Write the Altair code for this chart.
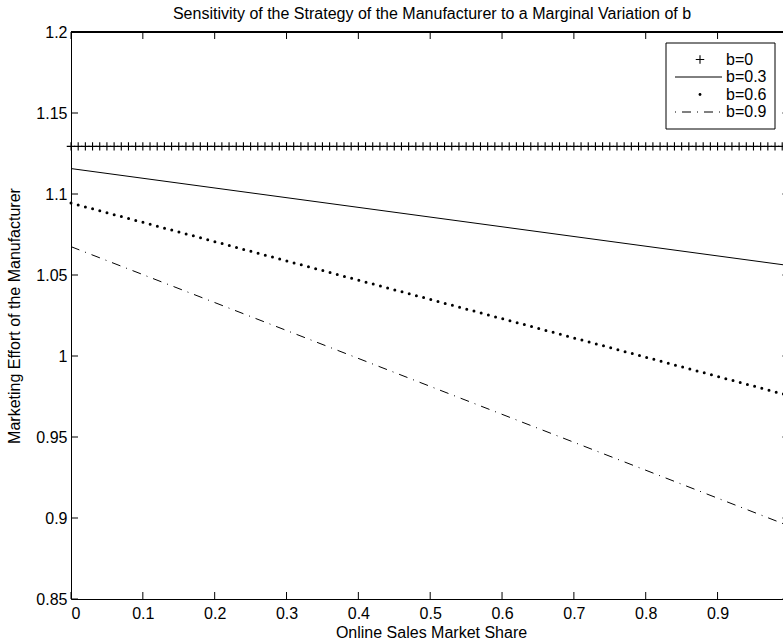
import altair as alt
import pandas as pd

# ---------------- data ----------------
x_share = [round(i * 0.01, 2) for i in range(101)]
b0_effort = [1.1294] * 101                     # b = 0 (constant, '+' markers)
line_x = [0.0, 1.0]
b03_effort = [1.1157, 1.0558]                  # b = 0.3 (solid)
b06_effort = [1.0944, 0.9755]                  # b = 0.6 (dotted)
b09_effort = [1.0675, 0.8950]                  # b = 0.9 (dash-dot)
series_labels = ["b=0", "b=0.3", "b=0.6", "b=0.9"]
x_ticks = [0, 0.1, 0.2, 0.3, 0.4, 0.5, 0.6, 0.7, 0.8, 0.9]
y_ticks = [0.85, 0.9, 0.95, 1.0, 1.05, 1.1, 1.15, 1.2]

title_text = "Sensitivity of the Strategy of the Manufacturer to a Marginal Variation of b"
x_title = "Online Sales Market Share"
y_title = "Marketing Effort of the Manufacturer"

FONT = "Liberation Sans"
FS = 16
W, H = 712, 567

df_b0 = pd.DataFrame({"x": x_share, "y": b0_effort})
df_b03 = pd.DataFrame({"x": line_x, "y": b03_effort})
df_b06 = pd.DataFrame({"x": line_x, "y": b06_effort})
df_b09 = pd.DataFrame({"x": line_x, "y": b09_effort})
df_xt = pd.DataFrame({"t": x_ticks})
df_yt = pd.DataFrame({"t": y_ticks})

xscale = alt.Scale(domain=[0, 0.9911], nice=False, zero=False)
yscale = alt.Scale(domain=[0.85, 1.2], nice=False, zero=False)

PLUS = "M-1,0H1M0,-1V1"

x_axis = alt.Axis(values=x_ticks, format="~g", ticks=False, grid=False,
                  domain=True, domainColor="black", domainWidth=1,
                  labelFont=FONT, labelFontSize=FS, labelColor="black",
                  labelPadding=6, title=x_title, titleFont=FONT, titleFontSize=FS,
                  titleFontWeight="normal", titleColor="black", titlePadding=3,
                  titleX=360)
y_axis = alt.Axis(values=y_ticks, format="~g", ticks=False, grid=False,
                  domain=True, domainColor="black", domainWidth=1,
                  labelFont=FONT, labelFontSize=FS, labelColor="black",
                  labelPadding=4, title=y_title, titleFont=FONT, titleFontSize=FS,
                  titleFontWeight="normal", titleColor="black", titlePadding=13)

b0 = alt.Chart(df_b0).mark_point(shape=PLUS, filled=False, size=72, strokeWidth=1.1,
                                  color="black", opacity=1).encode(
    x=alt.X("x:Q", scale=xscale, axis=x_axis),
    y=alt.Y("y:Q", scale=yscale, axis=y_axis),
)
b03 = alt.Chart(df_b03).mark_line(color="black", strokeWidth=1).encode(
    x="x:Q", y="y:Q")
b06 = alt.Chart(df_b06).mark_line(color="black", strokeWidth=3, strokeCap="round",
                                  strokeDash=[0, 7.45]).encode(x="x:Q", y="y:Q")
b09 = alt.Chart(df_b09).mark_line(color="black", strokeWidth=1,
                                  strokeDash=[9, 6, 1, 6]).encode(x="x:Q", y="y:Q")

# frame & inward ticks
top_frame = alt.Chart(df_xt).mark_rule(color="black", strokeWidth=1).encode(
    x=alt.value(0), x2=alt.value(W), y=alt.value(0))
bt = alt.Chart(df_xt).mark_rule(color="black", strokeWidth=1).encode(
    x="t:Q", y=alt.value(H), y2=alt.value(H - 7))
tt = alt.Chart(df_xt).mark_rule(color="black", strokeWidth=1).encode(
    x="t:Q", y=alt.value(0), y2=alt.value(7))
lt = alt.Chart(df_yt).mark_rule(color="black", strokeWidth=1).encode(
    y="t:Q", x=alt.value(0), x2=alt.value(7))
rt = alt.Chart(df_yt).mark_rule(color="black", strokeWidth=1).encode(
    y="t:Q", x=alt.value(711.4), x2=alt.value(718.4))

# title as text
title_df = pd.DataFrame({"txt": [title_text]})
title_mark = alt.Chart(title_df).mark_text(font=FONT, fontSize=FS, color="black",
                                           align="center", baseline="middle").encode(
    x=alt.value(361), y=alt.value(-18), text="txt:N")

# legend
LX0, LX1, LY0, LY1 = 595, 704, 11, 97
rows = [27.5, 45, 62.5, 80]
leg_df = pd.DataFrame({"label": series_labels})
leg_box = alt.Chart(leg_df.head(1)).mark_rect(fill="white", stroke="black",
                                               strokeWidth=1).encode(
    x=alt.value(LX0), x2=alt.value(LX1), y=alt.value(LY0), y2=alt.value(LY1))
leg_layers = [leg_box]
for i, lab in enumerate(series_labels):
    d = pd.DataFrame({"label": [lab]})
    leg_layers.append(alt.Chart(d).mark_text(align="left", baseline="middle",
                                             font=FONT, fontSize=FS, color="black").encode(
        x=alt.value(655), y=alt.value(rows[i]), text="label:N"))
leg_layers.append(alt.Chart(leg_df.head(1)).mark_point(
    shape=PLUS, filled=False, size=72, strokeWidth=1.1, color="black", opacity=1).encode(
    x=alt.value(629), y=alt.value(rows[0])))
leg_layers.append(alt.Chart(leg_df.head(1)).mark_rule(color="black", strokeWidth=1).encode(
    x=alt.value(604), x2=alt.value(651), y=alt.value(rows[1])))
leg_layers.append(alt.Chart(leg_df.head(1)).mark_point(
    shape="circle", filled=True, size=8, color="black", opacity=1).encode(
    x=alt.value(629), y=alt.value(rows[2])))
leg_layers.append(alt.Chart(leg_df.head(1)).mark_rule(
    color="black", strokeWidth=1, strokeDash=[1, 6, 9, 6]).encode(
    x=alt.value(604), x2=alt.value(651), y=alt.value(rows[3])))

chart = alt.layer(b03, b06, b09, b0, top_frame, bt, tt, lt, rt, title_mark,
                  *leg_layers).properties(
    width=W, height=H,
    autosize=alt.AutoSizeParams(type="none"),
    padding={"left": 71, "top": 32, "right": 0, "bottom": 43},
).configure_view(stroke=None).configure(background="white")

chart.save("out.html", embed_options={"renderer": "svg", "actions": False})
